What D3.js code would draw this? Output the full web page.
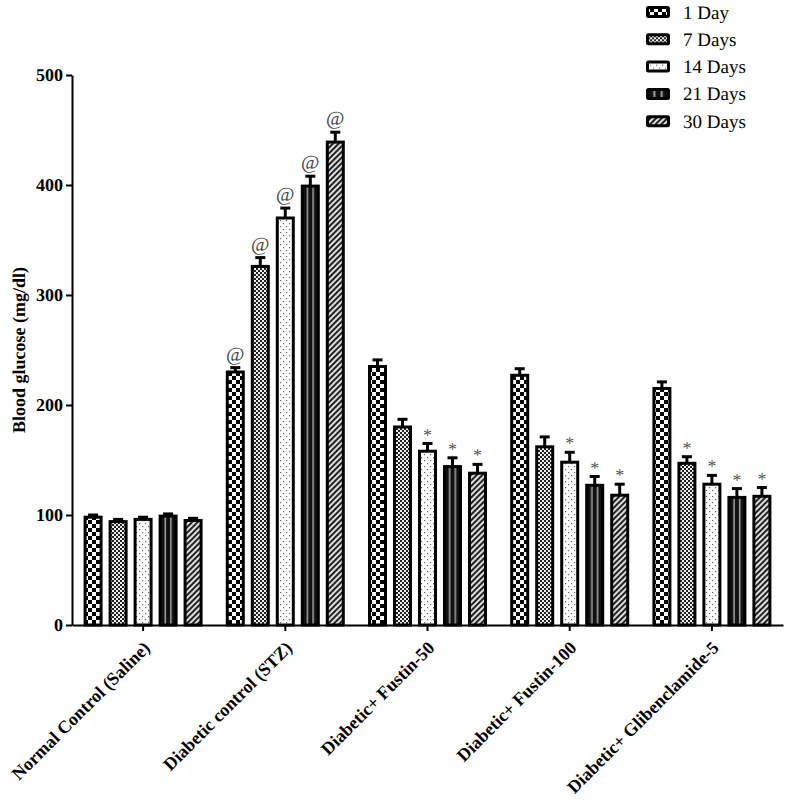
<!DOCTYPE html>
<html>
<head>
<meta charset="utf-8">
<script src="https://cdn.jsdelivr.net/npm/d3@7"></script>
<style>
  body { margin: 0; background: #fff; }
  svg { display: block; }
  text { text-rendering: geometricPrecision; }
</style>
</head>
<body>
<svg id="chart" width="794" height="802"></svg>
<script>
// ---------- data ----------
const categories = ["Normal Control (Saline)", "Diabetic control (STZ)", "Diabetic+ Fustin-50", "Diabetic+ Fustin-100", "Diabetic+ Glibenclamide-5"];
const seriesNames = ["1 Day", "7 Days", "14 Days", "21 Days", "30 Days"];
const day1  = [98, 230, 235, 227, 215];
const day7  = [94, 326, 180, 162, 147];
const day14 = [96, 370, 158, 148, 128];
const day21 = [99, 399, 144, 127, 116];
const day30 = [95, 439, 138, 118, 117];
const err1  = [2, 4, 6, 6, 6];
const err7  = [2, 8, 7, 9, 6];
const err14 = [2, 9, 7, 9, 8];
const err21 = [2, 9, 8, 8, 8];
const err30 = [2, 9, 8, 10, 8];
const sig1  = ["", "@", "", "", ""];
const sig7  = ["", "@", "", "", "*"];
const sig14 = ["", "@", "*", "*", "*"];
const sig21 = ["", "@", "*", "*", "*"];
const sig30 = ["", "@", "*", "*", "*"];
const yTicks = [0, 100, 200, 300, 400, 500];

const seriesValues = [day1, day7, day14, day21, day30];
const seriesErrs = [err1, err7, err14, err21, err30];
const seriesSig = [sig1, sig7, sig14, sig21, sig30];
const patternIds = ["p1", "p7", "p14", "p21", "p30"];

// ---------- layout ----------
const svg = d3.select("#chart");
const mLeft = 72, mRight = 783, mTop = 75, mBottom = 625;
const serif = "'Liberation Serif', 'Times New Roman', serif";

// ---------- patterns ----------
const defs = svg.append("defs");
// 1 Day: large checkerboard
let p = defs.append("pattern").attr("id", "p1").attr("patternUnits", "userSpaceOnUse")
  .attr("width", 8).attr("height", 8);
p.append("rect").attr("width", 8).attr("height", 8).attr("fill", "#fff");
p.append("rect").attr("width", 4).attr("height", 4).attr("fill", "#000");
p.append("rect").attr("x", 4).attr("y", 4).attr("width", 4).attr("height", 4).attr("fill", "#000");
// 7 Days: fine checkerboard
p = defs.append("pattern").attr("id", "p7").attr("patternUnits", "userSpaceOnUse")
  .attr("width", 4).attr("height", 4);
p.append("rect").attr("width", 4).attr("height", 4).attr("fill", "#eee");
p.append("rect").attr("width", 2).attr("height", 2).attr("fill", "#222");
p.append("rect").attr("x", 2).attr("y", 2).attr("width", 2).attr("height", 2).attr("fill", "#222");
// 14 Days: sparse dots
p = defs.append("pattern").attr("id", "p14").attr("patternUnits", "userSpaceOnUse")
  .attr("width", 6).attr("height", 6);
p.append("rect").attr("width", 6).attr("height", 6).attr("fill", "#fff");
p.append("rect").attr("x", 1).attr("y", 1).attr("width", 1.2).attr("height", 1.2).attr("fill", "#666");
p.append("rect").attr("x", 4).attr("y", 4).attr("width", 1.2).attr("height", 1.2).attr("fill", "#666");
// 21 Days: black with two light vertical lines
p = defs.append("pattern").attr("id", "p21").attr("patternUnits", "objectBoundingBox")
  .attr("patternContentUnits", "objectBoundingBox").attr("width", 1).attr("height", 1);
p.append("rect").attr("width", 1).attr("height", 1).attr("fill", "#111");
p.append("rect").attr("x", 0.28).attr("width", 0.09).attr("height", 1).attr("fill", "#aaa");
p.append("rect").attr("x", 0.63).attr("width", 0.09).attr("height", 1).attr("fill", "#aaa");
// 30 Days: diagonal hatch
p = defs.append("pattern").attr("id", "p30").attr("patternUnits", "userSpaceOnUse")
  .attr("width", 4).attr("height", 4).attr("patternTransform", "rotate(45)");
p.append("rect").attr("width", 4).attr("height", 4).attr("fill", "#ddd");
p.append("rect").attr("width", 2).attr("height", 4).attr("fill", "#222");

// ---------- scales ----------
const x0 = d3.scaleBand().domain(categories).range([mLeft, mRight]).padding(0);
const groupW = 125;
const x1 = d3.scaleBand().domain(d3.range(seriesNames.length))
  .range([(x0.bandwidth() - groupW) / 2, (x0.bandwidth() + groupW) / 2])
  .paddingInner(0.36).paddingOuter(0.18);
const y = d3.scaleLinear().domain([0, 500]).range([mBottom, mTop]);

// ---------- bars ----------
const barData = [];
categories.forEach((c, gi) => {
  seriesNames.forEach((s, si) => {
    barData.push({ c, si, v: seriesValues[si][gi], e: seriesErrs[si][gi], sig: seriesSig[si][gi] });
  });
});

const g = svg.append("g");
const bars = g.selectAll("g.bar").data(barData).join("g").attr("class", "bar");
const bx = d => x0(d.c) + x1(d.si);
const bw = x1.bandwidth();

// error bars (upward)
bars.append("line")
  .attr("x1", d => bx(d) + bw / 2).attr("x2", d => bx(d) + bw / 2)
  .attr("y1", d => y(d.v)).attr("y2", d => y(d.v + d.e))
  .attr("stroke", "#000").attr("stroke-width", 3);
bars.append("line")
  .attr("x1", d => bx(d) + bw / 2 - 5).attr("x2", d => bx(d) + bw / 2 + 5)
  .attr("y1", d => y(d.v + d.e)).attr("y2", d => y(d.v + d.e))
  .attr("stroke", "#000").attr("stroke-width", 3);

bars.append("rect")
  .attr("x", d => bx(d)).attr("width", bw)
  .attr("y", d => y(d.v)).attr("height", d => y(0) - y(d.v))
  .attr("fill", d => `url(#${patternIds[d.si]})`)
  .attr("stroke", "#000").attr("stroke-width", 3);

// significance marks
bars.filter(d => d.sig !== "").append("text")
  .attr("x", d => bx(d) + bw / 2)
  .attr("y", d => y(d.v + d.e) - (d.sig === "@" ? 7 : 3))
  .attr("text-anchor", "middle")
  .attr("font-family", serif)
  .attr("font-size", d => d.sig === "@" ? 20 : 18)
  .attr("fill", d => d.sig === "@" ? "#444" : "#555")
  .text(d => d.sig);

// ---------- axes ----------
const yAxis = d3.axisLeft(y).tickValues(yTicks).tickSize(6).tickSizeOuter(0).tickPadding(3);
const ya = svg.append("g").attr("transform", `translate(${mLeft},0)`).call(yAxis);
ya.select(".domain").attr("stroke-width", 2);
ya.selectAll(".tick line").attr("stroke-width", 2);
ya.selectAll("text").attr("font-family", serif).attr("font-weight", "bold").attr("font-size", 18).attr("fill", "#000");

const xAxis = d3.axisBottom(x0).tickSize(6).tickSizeOuter(0).tickFormat("");
const xa = svg.append("g").attr("transform", `translate(0,${mBottom})`).call(xAxis);
xa.select(".domain").attr("stroke-width", 2);
xa.selectAll(".tick line").attr("stroke-width", 2);

// x labels rotated
svg.append("g").selectAll("text").data(categories).join("text")
  .attr("transform", d => `translate(${x0(d) + x0.bandwidth() / 2 + 8},${mBottom + 24}) rotate(-45)`)
  .attr("text-anchor", "end")
  .attr("font-family", serif).attr("font-weight", "bold").attr("font-size", 18)
  .attr("fill", "#000")
  .text(d => d);

// y title
svg.append("text")
  .attr("transform", `translate(25,${(mTop + mBottom) / 2}) rotate(-90)`)
  .attr("text-anchor", "middle")
  .attr("font-family", serif).attr("font-weight", "bold").attr("font-size", 18)
  .attr("fill", "#000")
  .text("Blood glucose (mg/dl)");

// ---------- legend ----------
const lg = svg.append("g").selectAll("g").data(seriesNames).join("g")
  .attr("transform", (d, i) => `translate(646,${12 + i * 27.3})`);
lg.append("rect").attr("x", 1.5).attr("y", -4.5).attr("width", 21).attr("height", 9)
  .attr("fill", (d, i) => `url(#${patternIds[i]})`)
  .attr("stroke", "#000").attr("stroke-width", 3).attr("rx", 1);
lg.append("text").attr("x", 37).attr("y", 6.5)
  .attr("font-family", serif).attr("font-size", 19).attr("fill", "#000")
  .text(d => d);
</script>
</body>
</html>
